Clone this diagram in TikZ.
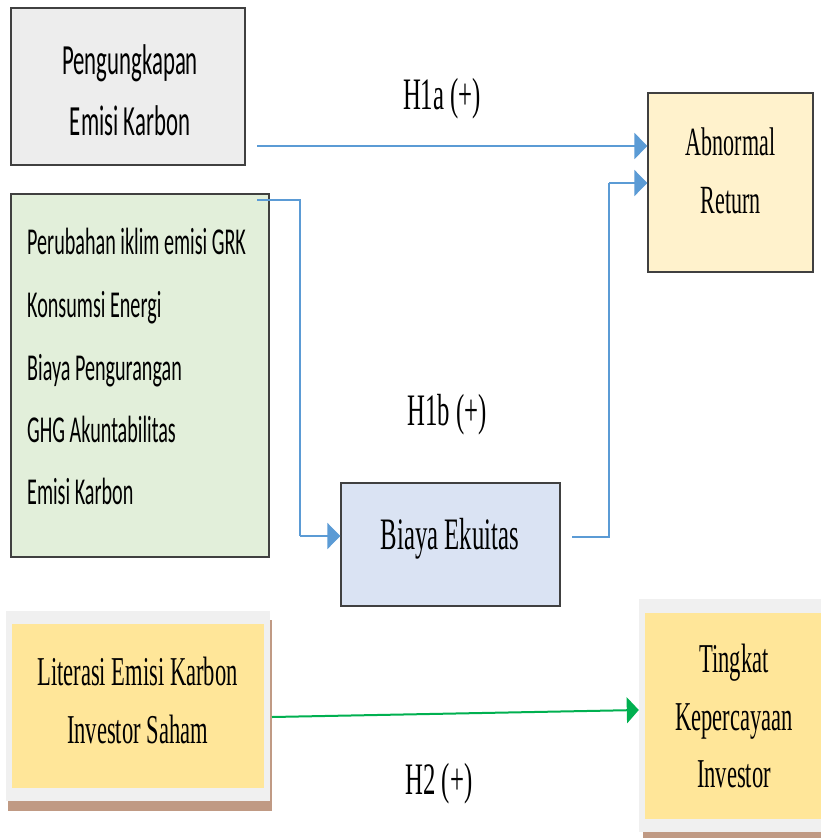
\documentclass[tikz,border=0pt]{standalone}
\usepackage{fontspec}
\usetikzlibrary{arrows.meta}
\newfontfamily\calnarrow[FakeStretch=0.53]{Carlito}
\newfontfamily\tmsnarrow[FakeStretch=0.55]{Liberation Serif}
\definecolor{boxgray}{HTML}{EDEDED}
\definecolor{boxgreen}{HTML}{E2EFDA}
\definecolor{boxbeige}{HTML}{FFF2CC}
\definecolor{boxblue}{HTML}{DAE3F3}
\definecolor{boxyellow}{HTML}{FFE699}
\definecolor{framegray}{HTML}{F0F0F0}
\definecolor{shadowbrown}{HTML}{C09A84}
\definecolor{arrowblue}{HTML}{5B9BD5}
\definecolor{arrowgreen}{HTML}{00B050}
\definecolor{edgegray}{HTML}{404040}
\tikzset{
  box/.style={draw=edgegray, line width=1.2pt, inner sep=0pt},
  plainbox/.style={draw=none, inner sep=0pt},
  caltext/.style={font=\calnarrow\fontsize{43}{52}\selectfont, inner sep=0pt},
  listtext/.style={font=\calnarrow\fontsize{38}{46}\selectfont, inner sep=0pt, anchor=base west},
  tmstext/.style={font=\tmsnarrow\fontsize{45}{54}\selectfont, inner sep=0pt, anchor=base},
  bluearrow/.style={draw=arrowblue, line width=1.6pt, -{Triangle[length=13pt,width=26pt]}},
  thinblue/.style={draw=arrowblue, line width=1.2pt},
  greenarrow/.style={draw=arrowgreen, line width=2pt, -{Triangle[length=12pt,width=26pt]}}
}
\begin{document}
\begin{tikzpicture}[x=1pt,y=-1pt]
\useasboundingbox (0,0) rectangle (821,838);
\fill[white] (0,0) rectangle (821,838);
% boxes
\node[box, fill=boxgray, minimum width=234pt, minimum height=157pt] (peng) at (128,86.5) {};
\node[box, fill=boxgreen, minimum width=258pt, minimum height=363pt] (var) at (140,375.5) {};
\node[box, fill=boxbeige, minimum width=165pt, minimum height=179pt] (abn) at (730.5,182.5) {};
\node[box, fill=boxblue, minimum width=219pt, minimum height=123pt] (bia) at (450.5,544.5) {};
% Literasi box with frame and shadow
\node[plainbox, fill=shadowbrown, minimum width=264pt, minimum height=191pt] (litshadow) at (140,715.5) {};
\node[plainbox, fill=framegray, minimum width=264pt, minimum height=190pt] (litframe) at (138,706) {};
\node[plainbox, fill=boxyellow, minimum width=252pt, minimum height=164pt] (lit) at (138,705.5) {};
% Tingkat box with frame and shadow
\node[plainbox, fill=shadowbrown, minimum width=190pt, minimum height=226pt] (tkshadow) at (738,725) {};
\node[plainbox, fill=framegray, minimum width=192pt, minimum height=233pt] (tkframe) at (735,715.5) {};
\node[plainbox, fill=boxyellow, minimum width=182pt, minimum height=206pt] (tk) at (736,715.5) {};
% texts
\node[caltext, anchor=base] (pengA) at (130,74) {Pengungkapan};
\node[caltext, anchor=base] (pengB) at (130,135) {Emisi Karbon};
\node[listtext] (v1) at (27,254) {Perubahan iklim emisi GRK};
\node[listtext] (v2) at (27,317) {Konsumsi Energi};
\node[listtext] (v3) at (27,380) {Biaya Pengurangan};
\node[listtext] (v4) at (27,442) {GHG Akuntabilitas};
\node[listtext] (v5) at (27,504) {Emisi Karbon};
\node[tmstext, font=\tmsnarrow\fontsize{40}{48}\selectfont] (abnA) at (730.5,155) {Abnormal};
\node[tmstext, font=\tmsnarrow\fontsize{40}{48}\selectfont] (abnB) at (730.5,213) {Return};
\node[tmstext] (biaT) at (450,549) {Biaya Ekuitas};
\node[tmstext, font=\tmsnarrow\fontsize{41}{48}\selectfont] (litA) at (137.5,685) {Literasi Emisi Karbon};
\node[tmstext, font=\tmsnarrow\fontsize{41}{48}\selectfont] (litB) at (137.5,743) {Investor Saham};
\node[tmstext, font=\tmsnarrow\fontsize{41}{48}\selectfont] (tkA) at (734,672) {Tingkat};
\node[tmstext, font=\tmsnarrow\fontsize{41}{48}\selectfont] (tkB) at (734,730) {Kepercayaan};
\node[tmstext, font=\tmsnarrow\fontsize{41}{48}\selectfont] (tkC) at (734,787) {Investor};
\node[tmstext] (h1a) at (442,109) {H1a (+)};
\node[tmstext] (h1b) at (447,425) {H1b (+)};
\node[tmstext] (h2) at (439,794) {H2 (+)};
% connector points
\coordinate (s1) at (257,146);
\coordinate (s2) at (257,200);
\coordinate (s3) at (572,537);
\coordinate (s4) at (272,717);
% connectors
\draw[bluearrow] (s1) -- (s1 -| abn.west);
\draw[thinblue] (s2) -- (300,200) -- (300,536);
\draw[bluearrow, line width=1.2pt] (300,536) -- (bia.west |- 0,536);
\draw[thinblue] (s3) -- (609,537) -- (609,183);
\draw[bluearrow, line width=1.2pt] (609,183) -- (abn.west |- 0,183);
\draw[greenarrow] (s4) -- (tkframe.west |- 0,710);
\end{tikzpicture}
\end{document}
